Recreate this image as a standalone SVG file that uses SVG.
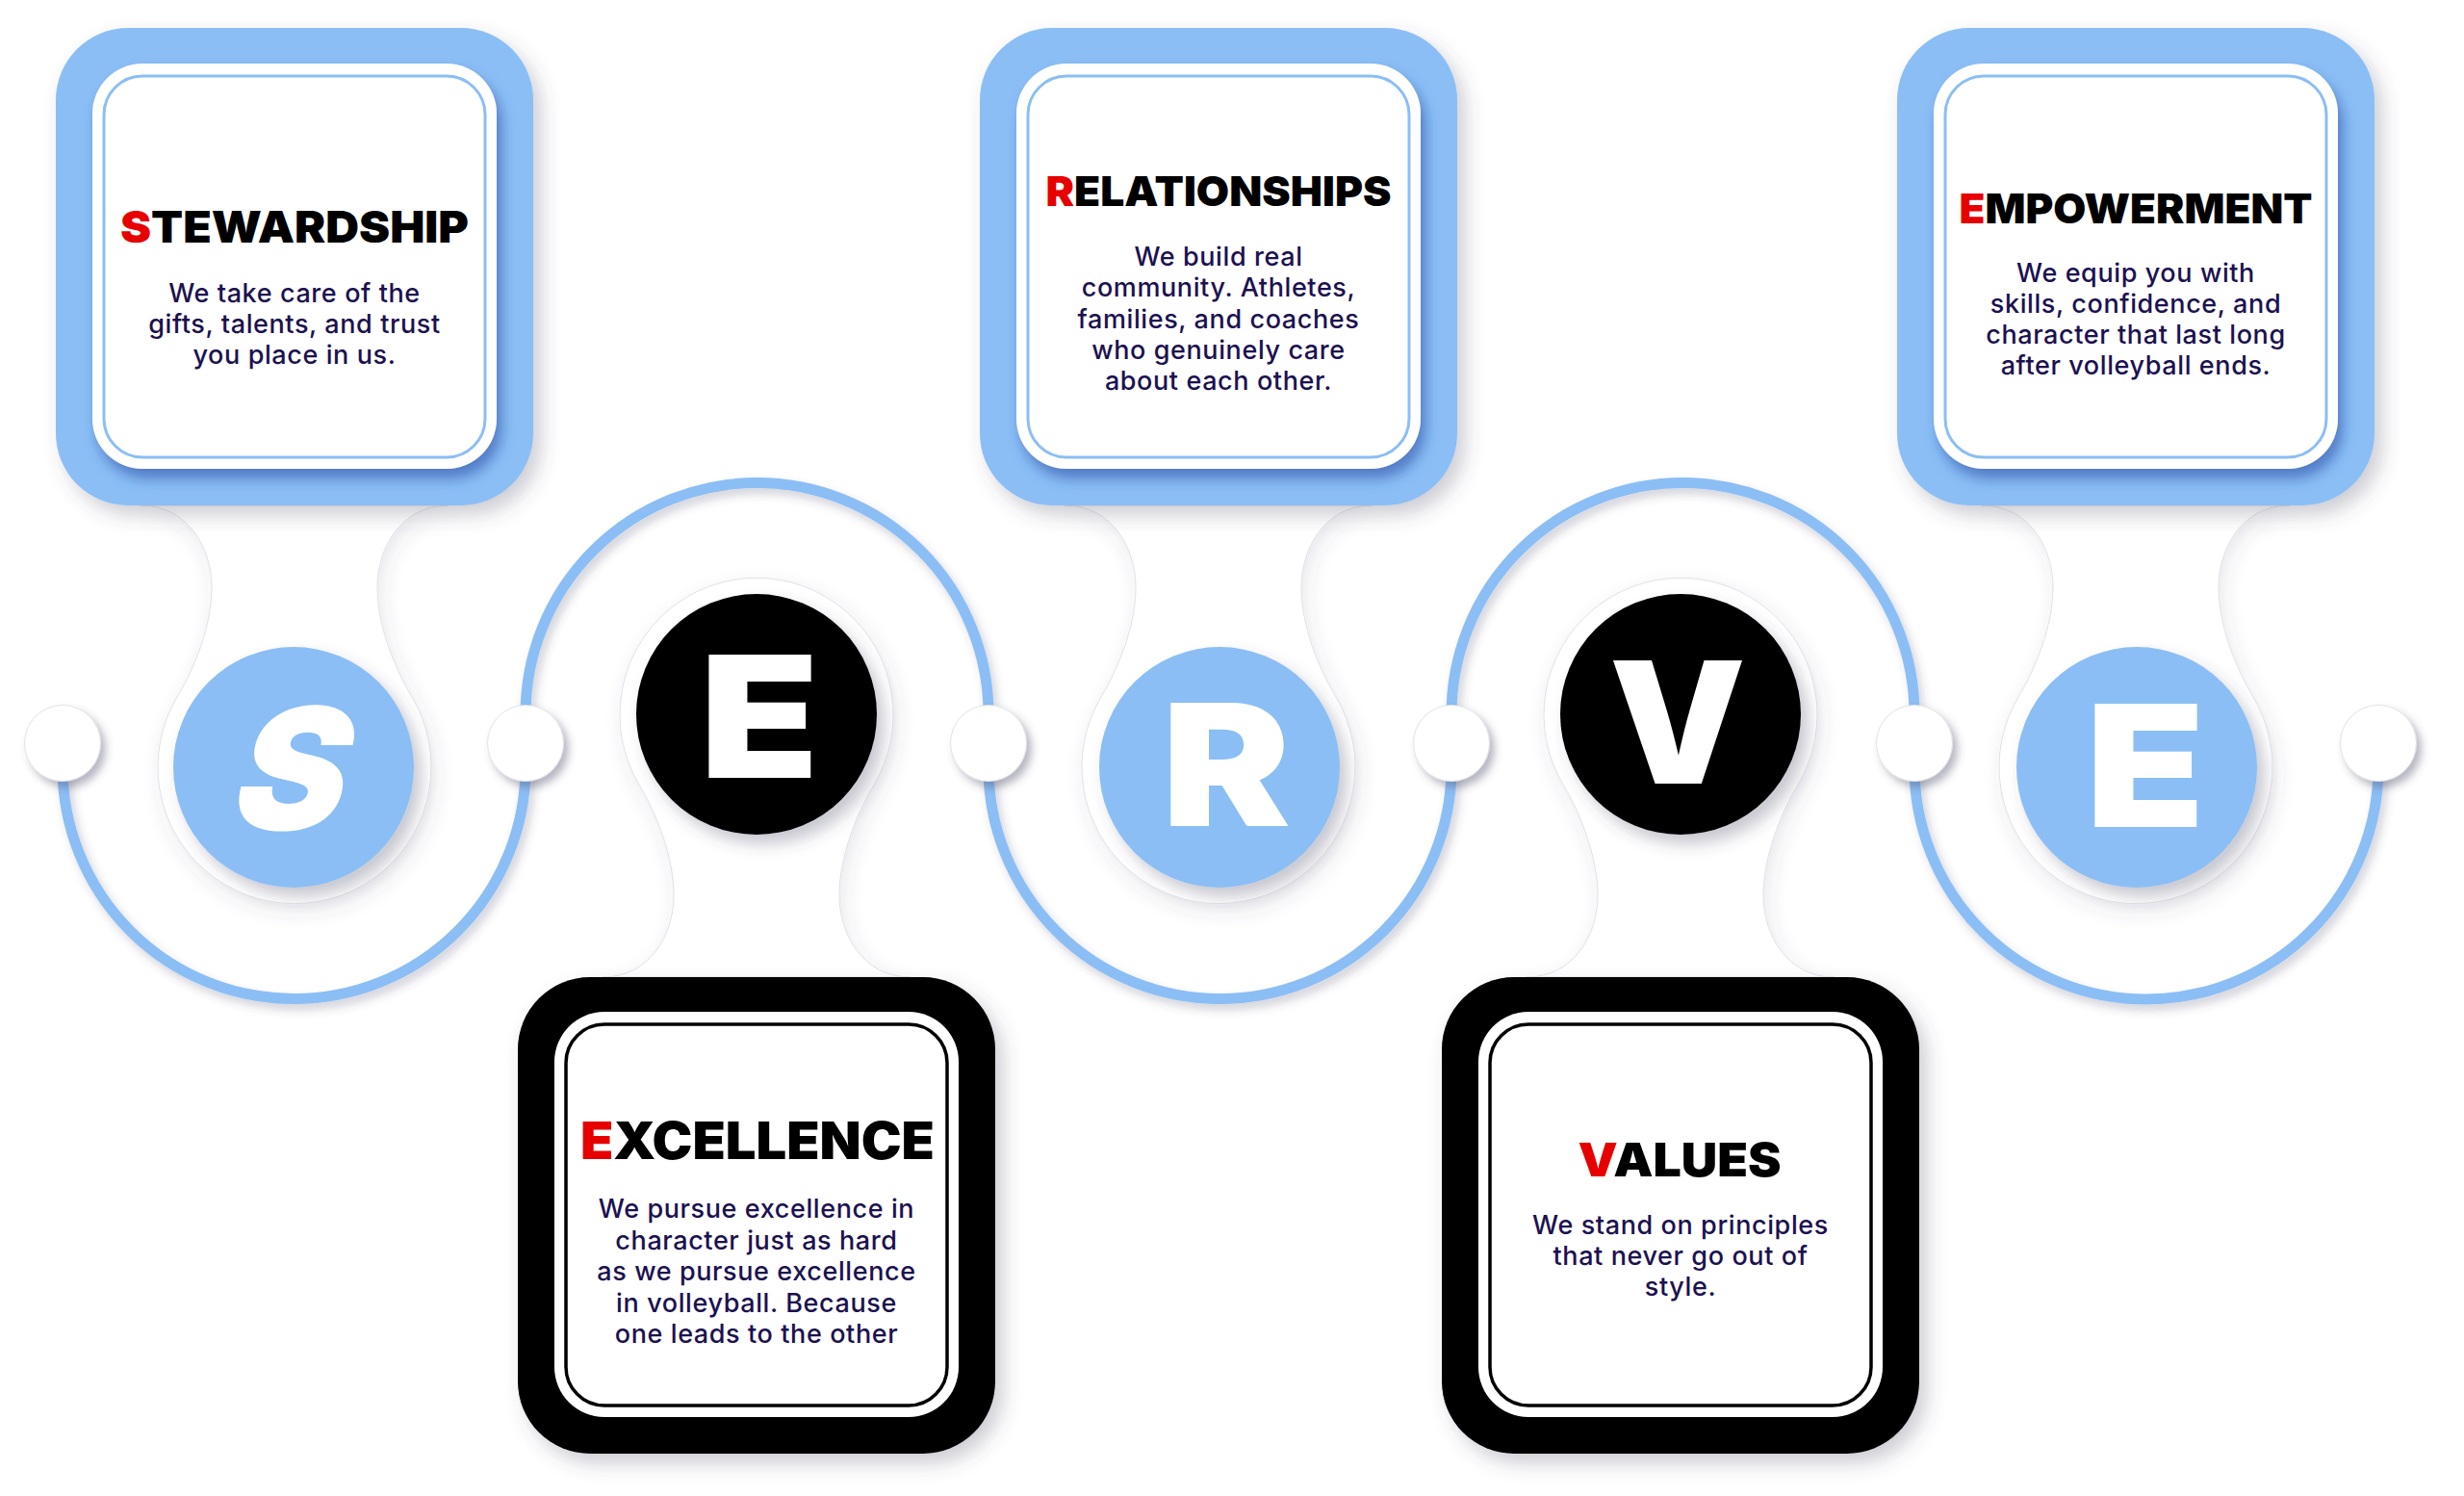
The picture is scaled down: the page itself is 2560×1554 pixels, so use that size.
<svg xmlns="http://www.w3.org/2000/svg" width="2560" height="1554" viewBox="0 0 2560 1554">
<defs>
<style>
.title{font-family:Inter,"Liberation Sans",sans-serif;font-weight:900;text-anchor:middle;fill:#000}
.red{fill:#e60000}
.body{font-family:Inter,"Liberation Sans",sans-serif;font-size:27px;font-weight:500;letter-spacing:0.6px;fill:#1c1150;text-anchor:middle}
.big{font-family:Inter,"Liberation Sans",sans-serif;font-weight:900;fill:#fff;text-anchor:middle;font-size:176px}
.neck{fill:#fff;stroke:#e0e0e6;stroke-width:1;filter:url(#fNeck)}
.blue{fill:#8bbef5}
.black{fill:#000}
.outerBox{filter:url(#fBox)}
.whiteB{fill:#fff;filter:url(#fInner)}
.whiteK{fill:#fff}
.lineB{fill:none;stroke:#8bbef5;stroke-width:3}
.lineK{fill:none;stroke:#000;stroke-width:3.5}
.circ{filter:url(#fCirc)}
.dot{fill:#fff;stroke:#e2e2e8;stroke-width:1;filter:url(#fDot)}
.wave{fill:none;stroke:#8bbef5;stroke-width:11;filter:url(#fArc)}
</style>
<filter id="fBox" x="-20%" y="-20%" width="140%" height="140%"><feDropShadow dx="8" dy="10" stdDeviation="10" flood-color="#4a4a66" flood-opacity="0.28"/></filter>
<filter id="fInner" x="-20%" y="-20%" width="140%" height="140%"><feDropShadow dx="5" dy="10" stdDeviation="7" flood-color="#1f45a0" flood-opacity="0.55"/></filter>
<filter id="fCirc" x="-30%" y="-30%" width="160%" height="160%"><feDropShadow dx="8" dy="10" stdDeviation="8" flood-color="#4a4a66" flood-opacity="0.3"/></filter>
<filter id="fDot" x="-50%" y="-50%" width="200%" height="200%"><feDropShadow dx="5" dy="6" stdDeviation="4" flood-color="#4a4a66" flood-opacity="0.4"/></filter>
<filter id="fNeck" x="-30%" y="-30%" width="160%" height="160%"><feDropShadow dx="4" dy="8" stdDeviation="10" flood-color="#4a4a66" flood-opacity="0.12"/></filter>
<filter id="fArc" x="-10%" y="-10%" width="120%" height="130%"><feDropShadow dx="4" dy="6" stdDeviation="5" flood-color="#4a4a66" flood-opacity="0.25"/></filter>
</defs>
<rect width="2560" height="1554" fill="#fff"/>

<g id="necks">
<path class="neck" d="M146 525 C196 525 220 570 220 610 C220 650 202 694 184 724 A142 142 0 1 0 428 724 C410 694 392 650 392 610 C392 570 416 525 466 525 Z"/>
<path class="neck" d="M1106 525 C1156 525 1180 570 1180 610 C1180 650 1162 694 1144 724 A142 142 0 1 0 1388 724 C1370 694 1352 650 1352 610 C1352 570 1376 525 1426 525 Z"/>
<path class="neck" d="M2059 525 C2109 525 2133 570 2133 610 C2133 650 2115 694 2097 724 A142 142 0 1 0 2341 724 C2323 694 2305 650 2305 610 C2305 570 2329 525 2379 525 Z"/>
<path class="neck" d="M626 1015 C676 1015 700 970 700 930 C700 890 682 845 664 815 A142 142 0 1 1 908 815 C890 845 872 890 872 930 C872 970 896 1015 946 1015 Z"/>
<path class="neck" d="M1586 1015 C1636 1015 1660 970 1660 930 C1660 890 1642 845 1624 815 A142 142 0 1 1 1868 815 C1850 845 1832 890 1832 930 C1832 970 1856 1015 1906 1015 Z"/>
</g>

<g id="connectors">
<path class="wave" d="M65 772 V797 A240.5 240.5 0 0 0 546 797 V742 A240.5 240.5 0 0 1 1027 742 V797 A240.5 240.5 0 0 0 1508 797 V742 A240.5 240.5 0 0 1 1989 742 V797 A241 241 0 0 0 2471 797 V772"/>
<circle class="dot" cx="65" cy="772" r="39.5"/>
<circle class="dot" cx="546" cy="772" r="39.5"/>
<circle class="dot" cx="1027" cy="772" r="39.5"/>
<circle class="dot" cx="1508" cy="772" r="39.5"/>
<circle class="dot" cx="1989" cy="772" r="39.5"/>
<circle class="dot" cx="2471" cy="772" r="39.5"/>
</g>

<g id="node-s">
<circle class="blue circ" cx="305" cy="797" r="125"/>
<text class="big" x="308" y="862" textLength="116" lengthAdjust="spacingAndGlyphs" transform="translate(308 800) skewX(-15) translate(-308 -800)">S</text>
<rect class="blue outerBox" x="58" y="29" width="496" height="496" rx="75"/>
<rect class="whiteB" x="96" y="66" width="420" height="421" rx="52"/>
<rect class="lineB" x="108" y="79" width="396" height="396" rx="40"/>
<text class="title" x="306" y="252" font-size="46" textLength="362" lengthAdjust="spacingAndGlyphs"><tspan class="red">S</tspan>TEWARDSHIP</text>
<text class="body"><tspan x="306" y="314">We take care of the</tspan><tspan x="306" y="346">gifts, talents, and trust</tspan><tspan x="306" y="378">you place in us.</tspan></text>
</g>

<g id="node-e1">
<circle class="black circ" cx="786" cy="742" r="125"/>
<text class="big" x="789" y="808" textLength="124" lengthAdjust="spacingAndGlyphs">E</text>
<rect class="black outerBox" x="538" y="1015" width="496" height="495" rx="75"/>
<rect class="whiteK" x="576" y="1051" width="420" height="421" rx="52"/>
<rect class="lineK" x="588" y="1064" width="396" height="396" rx="40"/>
<text class="title" x="787" y="1204" font-size="53" textLength="368" lengthAdjust="spacingAndGlyphs"><tspan class="red">E</tspan>XCELLENCE</text>
<text class="body"><tspan x="786" y="1265">We pursue excellence in</tspan><tspan x="786" y="1298">character just as hard</tspan><tspan x="786" y="1330">as we pursue excellence</tspan><tspan x="786" y="1363">in volleyball. Because</tspan><tspan x="786" y="1395">one leads to the other</tspan></text>
</g>

<g id="node-r">
<circle class="blue circ" cx="1267" cy="797" r="125"/>
<text class="big" x="1274" y="858" textLength="134" lengthAdjust="spacingAndGlyphs">R</text>
<rect class="blue outerBox" x="1018" y="29" width="496" height="496" rx="75"/>
<rect class="whiteB" x="1056" y="66" width="420" height="421" rx="52"/>
<rect class="lineB" x="1068" y="79" width="396" height="396" rx="40"/>
<text class="title" x="1266" y="214" font-size="43" textLength="359" lengthAdjust="spacingAndGlyphs"><tspan class="red">R</tspan>ELATIONSHIPS</text>
<text class="body"><tspan x="1266" y="276">We build real</tspan><tspan x="1266" y="308">community. Athletes,</tspan><tspan x="1266" y="341">families, and coaches</tspan><tspan x="1266" y="373">who genuinely care</tspan><tspan x="1266" y="405">about each other.</tspan></text>
</g>

<g id="node-v">
<circle class="black circ" cx="1746" cy="742" r="125"/>
<text class="big" x="1743" y="814" textLength="142" lengthAdjust="spacingAndGlyphs">V</text>
<rect class="black outerBox" x="1498" y="1015" width="496" height="495" rx="75"/>
<rect class="whiteK" x="1536" y="1051" width="420" height="421" rx="52"/>
<rect class="lineK" x="1548" y="1064" width="396" height="396" rx="40"/>
<text class="title" x="1745" y="1222" font-size="48" textLength="211" lengthAdjust="spacingAndGlyphs"><tspan class="red">V</tspan>ALUES</text>
<text class="body"><tspan x="1746" y="1282">We stand on principles</tspan><tspan x="1746" y="1314">that never go out of</tspan><tspan x="1746" y="1346">style.</tspan></text>
</g>

<g id="node-e2">
<circle class="blue circ" cx="2220" cy="797" r="125"/>
<text class="big" x="2229" y="859" textLength="124" lengthAdjust="spacingAndGlyphs">E</text>
<rect class="blue outerBox" x="1971" y="29" width="496" height="496" rx="75"/>
<rect class="whiteB" x="2009" y="66" width="420" height="421" rx="52"/>
<rect class="lineB" x="2021" y="79" width="396" height="396" rx="40"/>
<text class="title" x="2219" y="232" font-size="42" textLength="367" lengthAdjust="spacingAndGlyphs"><tspan class="red">E</tspan>MPOWERMENT</text>
<text class="body"><tspan x="2219" y="293">We equip you with</tspan><tspan x="2219" y="325">skills, confidence, and</tspan><tspan x="2219" y="357">character that last long</tspan><tspan x="2219" y="389">after volleyball ends.</tspan></text>
</g>
</svg>
